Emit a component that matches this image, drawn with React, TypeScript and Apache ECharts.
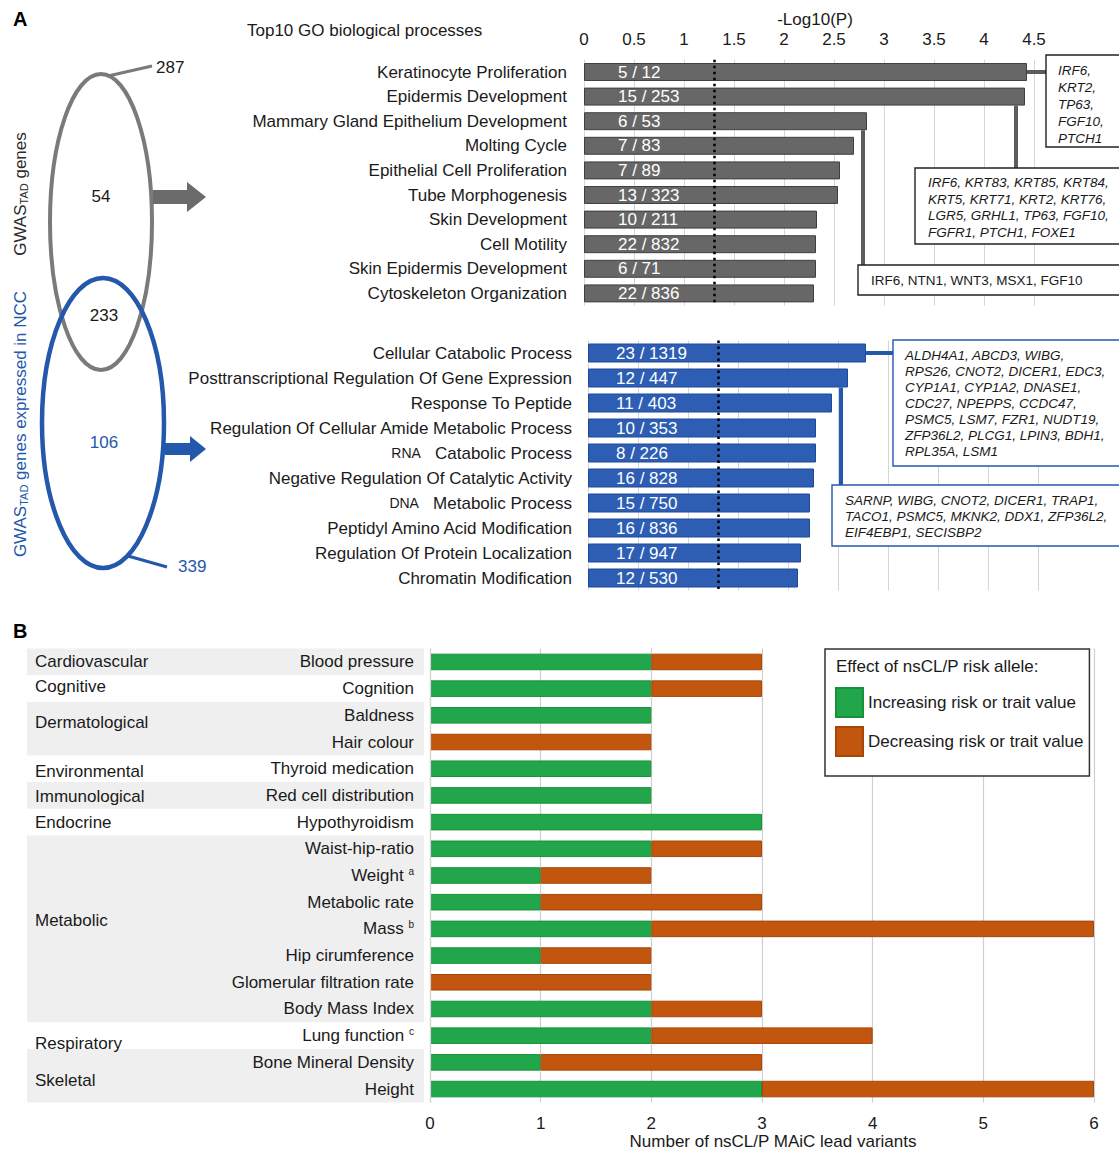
import React, { useEffect, useRef } from 'react';
import * as echarts from 'echarts';

const FONT = '"Liberation Sans", Arial, Helvetica, sans-serif';
const TXT = '#1a1a1a';
const GRAY = '#676767';
const BLUE = '#2d5eb3';
const VBLUE = '#2458ac';
const GREEN = '#22a64b';
const ORANGE = '#c2560e';

// ---------- Panel A data ----------
const grayTerms = [
  'Keratinocyte Proliferation',
  'Epidermis Development',
  'Mammary Gland Epithelium Development',
  'Molting Cycle',
  'Epithelial Cell Proliferation',
  'Tube Morphogenesis',
  'Skin Development',
  'Cell Motility',
  'Skin Epidermis Development',
  'Cytoskeleton Organization',
];
const grayLogP = [4.43, 4.41, 2.83, 2.7, 2.56, 2.54, 2.33, 2.32, 2.32, 2.3];
const grayCounts = ['5 / 12', '15 / 253', '6 / 53', '7 / 83', '7 / 89', '13 / 323', '10 / 211', '22 / 832', '6 / 71', '22 / 836'];

const blueTerms = [
  'Cellular Catabolic Process',
  'Posttranscriptional Regulation Of Gene Expression',
  'Response To Peptide',
  'Regulation Of Cellular Amide Metabolic Process',
  'RNA Catabolic Process',
  'Negative Regulation Of Catalytic Activity',
  'DNA Metabolic Process',
  'Peptidyl Amino Acid Modification',
  'Regulation Of Protein Localization',
  'Chromatin Modification',
];
const blueLogP = [2.78, 2.6, 2.44, 2.28, 2.28, 2.26, 2.22, 2.22, 2.13, 2.1];
const blueCounts = ['23 / 1319', '12 / 447', '11 / 403', '10 / 353', '8 / 226', '16 / 828', '15 / 750', '16 / 836', '17 / 947', '12 / 530'];

const pThreshold = 1.301; // -log10(0.05)

const grayGeneLists = [
  ['IRF6,', 'KRT2,', 'TP63,', 'FGF10,', 'PTCH1'],
  ['IRF6, KRT83, KRT85, KRT84,', 'KRT5, KRT71, KRT2, KRT76,', 'LGR5, GRHL1, TP63, FGF10,', 'FGFR1, PTCH1, FOXE1'],
  ['IRF6, NTN1, WNT3, MSX1, FGF10'],
];
const blueGeneLists = [
  ['ALDH4A1, ABCD3, WIBG,', 'RPS26, CNOT2, DICER1, EDC3,', 'CYP1A1, CYP1A2, DNASE1,', 'CDC27, NPEPPS, CCDC47,', 'PSMC5, LSM7, FZR1, NUDT19,', 'ZFP36L2, PLCG1, LPIN3, BDH1,', 'RPL35A, LSM1'],
  ['SARNP, WIBG, CNOT2, DICER1, TRAP1,', 'TACO1, PSMC5, MKNK2, DDX1, ZFP36L2,', 'EIF4EBP1, SECISBP2'],
];

const vennTotals = ['287', '339'];
const vennRegions = ['54', '233', '106'];

// ---------- Panel B data ----------
const traits = [
  'Blood pressure', 'Cognition', 'Baldness', 'Hair colour', 'Thyroid medication', 'Red cell distribution',
  'Hypothyroidism', 'Waist-hip-ratio', 'Weight', 'Metabolic rate', 'Mass', 'Hip cirumference',
  'Glomerular filtration rate', 'Body Mass Index', 'Lung function', 'Bone Mineral Density', 'Height',
];
const traitNotes: Record<string, string> = { Weight: 'a', Mass: 'b', 'Lung function': 'c' };
const increasing = [2, 2, 2, 0, 2, 2, 3, 2, 1, 1, 2, 1, 0, 2, 2, 1, 3];
const decreasing = [1, 1, 0, 2, 0, 0, 0, 1, 1, 2, 4, 1, 2, 1, 2, 2, 3];
const traitGroups = [
  { name: 'Cardiovascular', first: 0, count: 1 },
  { name: 'Cognitive', first: 1, count: 1 },
  { name: 'Dermatological', first: 2, count: 2 },
  { name: 'Environmental', first: 4, count: 1 },
  { name: 'Immunological', first: 5, count: 1 },
  { name: 'Endocrine', first: 6, count: 1 },
  { name: 'Metabolic', first: 7, count: 7 },
  { name: 'Respiratory', first: 14, count: 1 },
  { name: 'Skeletal', first: 15, count: 2 },
];
const legendNames = ['Increasing risk or trait value', 'Decreasing risk or trait value'];

// ---------- layout ----------
const GA = { left: 584, top: 59.7, width: 450, height: 246 };
const GB = { left: 588, top: 340.5, width: 450, height: 250 };
const GC = { left: 430, top: 648.6, width: 664, height: 453.8 };
const GAP_A = 0.27;
const GAP_B = 0.24;
const groupLabelDy = [0, -2, -6, 3, 1, 0, -8, 8, 5];

const grayBoxes = [
  { x: 1046, y: 55, w: 80, h: 92, tx: 1058, ty: 61.5, lh: 17, italic: true },
  { x: 915, y: 168, w: 210, h: 76, tx: 928, ty: 174.5, lh: 16.5, italic: true },
  { x: 858, y: 265, w: 270, h: 30, tx: 871, ty: 272, lh: 16, italic: false },
];
const blueBoxes = [
  { x: 893, y: 340, w: 232, h: 126, tx: 905, ty: 347, lh: 16, italic: true },
  { x: 832, y: 485, w: 295, h: 61, tx: 845, ty: 492, lh: 16, italic: true },
];

function buildOption(): any {
  const markLine = {
    silent: true,
    symbol: ['none', 'none'],
    label: { show: false },
    lineStyle: { color: '#000', width: 2.5, type: [2.5, 3.5] },
    data: [{ xAxis: pThreshold }],
  };
  const barLabel = (counts: string[], dist: number) => ({
    show: true,
    position: 'insideLeft',
    distance: dist,
    color: '#fff',
    fontSize: 17,
    fontFamily: FONT,
    formatter: (p: any) => counts[p.dataIndex],
  });
  const catAxisLabel = {
    fontSize: 17,
    color: TXT,
    fontFamily: FONT,
    interval: 0,
  };
  return {
    animation: false,
    backgroundColor: '#fff',
    textStyle: { fontFamily: FONT },
    grid: [
      { left: GA.left, top: GA.top, width: GA.width, height: GA.height, containLabel: false },
      { left: GB.left, top: GB.top, width: GB.width, height: GB.height, containLabel: false },
      { left: GC.left, top: GC.top, width: GC.width, height: GC.height, containLabel: false },
    ],
    xAxis: [
      {
        gridIndex: 0,
        type: 'value',
        position: 'top',
        min: 0,
        max: 4.5,
        interval: 0.5,
        name: '-Log10(P)',
        nameLocation: 'middle',
        nameGap: 32,
        nameTextStyle: { fontSize: 17, color: TXT, fontFamily: FONT, padding: [0, 0, 0, 12] },
        axisLine: { show: false },
        axisTick: { show: false },
        axisLabel: { fontSize: 17, color: TXT, fontFamily: FONT, margin: 12 },
        splitLine: { show: true, lineStyle: { color: '#d6d6d6', width: 1 } },
      },
      {
        gridIndex: 1,
        type: 'value',
        position: 'top',
        min: 0,
        max: 4.5,
        interval: 0.5,
        axisLine: { show: false },
        axisTick: { show: false },
        axisLabel: { show: false },
        splitLine: { show: true, lineStyle: { color: '#d6d6d6', width: 1 } },
      },
      {
        gridIndex: 2,
        type: 'value',
        position: 'bottom',
        min: 0,
        max: 6,
        interval: 1,
        name: 'Number of nsCL/P MAiC lead variants',
        nameLocation: 'middle',
        nameGap: 31,
        nameTextStyle: { fontSize: 17, color: TXT, fontFamily: FONT, padding: [0, 0, 0, 22] },
        axisLine: { show: false },
        axisTick: { show: false },
        axisLabel: { fontSize: 17, color: TXT, fontFamily: FONT, margin: 13 },
        splitLine: { show: true, lineStyle: { color: '#cfcfcf', width: 1.2 } },
      },
    ],
    yAxis: [
      {
        gridIndex: 0,
        type: 'category',
        inverse: true,
        data: grayTerms,
        axisLine: { show: false },
        axisTick: { show: false },
        axisLabel: { ...catAxisLabel, margin: 17 },
      },
      {
        gridIndex: 1,
        type: 'category',
        inverse: true,
        data: blueTerms,
        axisLine: { show: false },
        axisTick: { show: false },
        axisLabel: {
          ...catAxisLabel,
          margin: 16,
          formatter: (v: string) => {
            const m = v.match(/^([A-Z]{2,}) (.*)$/);
            return m ? `{ab|${m[1]}}   ${m[2]}` : v;
          },
          rich: { ab: { fontSize: 14, color: TXT, fontFamily: FONT } },
        },
      },
      {
        gridIndex: 2,
        type: 'category',
        inverse: true,
        z: 10,
        data: traits,
        axisLine: { show: true, lineStyle: { color: '#d4d4d4', width: 1.2 } },
        axisTick: { show: false },
        axisLabel: {
          ...catAxisLabel,
          margin: 16,
          formatter: (v: string) => (traitNotes[v] ? `${v} {sup|${traitNotes[v]}}` : v),
          rich: { sup: { fontSize: 10, color: TXT, fontFamily: FONT, padding: [0, 0, 9, 0] } },
        },
      },
    ],
    legend: {
      data: legendNames,
      orient: 'vertical',
      left: 825,
      top: 649,
      itemWidth: 27,
      itemHeight: 29,
      itemGap: 8,
      padding: [38, 6, 19, 10],
      borderColor: '#333',
      borderWidth: 1.5,
      backgroundColor: '#fff',
      icon: 'rect',
      selectedMode: false,
      textStyle: { fontSize: 17, color: TXT, fontFamily: FONT },
    },
    series: [
      {
        type: 'bar',
        xAxisIndex: 0,
        yAxisIndex: 0,
        data: grayLogP,
        barCategoryGap: `${GAP_A * 100}%`,
        itemStyle: { color: GRAY, borderColor: '#3f3f3f', borderWidth: 1 },
        label: barLabel(grayCounts, 34),
        markLine,
      },
      {
        type: 'bar',
        xAxisIndex: 1,
        yAxisIndex: 1,
        data: blueLogP,
        barCategoryGap: `${GAP_B * 100}%`,
        itemStyle: { color: BLUE, borderColor: '#1e4a9a', borderWidth: 1 },
        label: barLabel(blueCounts, 28),
        markLine,
      },
      {
        type: 'bar',
        name: legendNames[0],
        stack: 'effect',
        xAxisIndex: 2,
        yAxisIndex: 2,
        barCategoryGap: '38%',
        data: increasing.map((v) => (v === 0 ? '-' : v)),
        itemStyle: { color: GREEN, borderColor: '#179239', borderWidth: 1 },
      },
      {
        type: 'bar',
        name: legendNames[1],
        stack: 'effect',
        xAxisIndex: 2,
        yAxisIndex: 2,
        barCategoryGap: '38%',
        data: decreasing.map((v) => (v === 0 ? '-' : v)),
        itemStyle: { color: ORANGE, borderColor: '#a84508', borderWidth: 1 },
      },
    ],
  };
}

const txt = (text: string, x: number, y: number, extra: any = {}, z = 60): any => ({
  type: 'text',
  x,
  y,
  z,
  style: {
    legacy: false,
    text,
    fill: TXT,
    fontSize: 17,
    fontFamily: FONT,
    align: 'left',
    verticalAlign: 'middle',
    ...extra,
  },
});

function staticGraphics(): any[] {
  const els: any[] = [];
  // panel letters and titles
  els.push(txt('A', 13, 19, { fontSize: 20, fontWeight: 'bold', fill: '#000' }));
  els.push(txt('B', 13, 631, { fontSize: 20, fontWeight: 'bold', fill: '#000' }));
  els.push(txt('Top10 GO biological processes', 247, 30));

  // Venn diagram
  els.push({ type: 'ellipse', z: 20, shape: { cx: 101, cy: 222, rx: 51, ry: 148 }, style: { fill: 'transparent', stroke: '#7a7a7a', lineWidth: 4 } });
  els.push({ type: 'ellipse', z: 21, shape: { cx: 103, cy: 423, rx: 61, ry: 145 }, style: { fill: 'transparent', stroke: VBLUE, lineWidth: 4.5 } });
  els.push({ type: 'line', z: 20, shape: { x1: 108, y1: 76, x2: 152, y2: 66 }, style: { stroke: '#7a7a7a', lineWidth: 3 } });
  els.push({ type: 'line', z: 20, shape: { x1: 128, y1: 556, x2: 167, y2: 567 }, style: { stroke: VBLUE, lineWidth: 3 } });
  els.push(txt(vennTotals[0], 156, 67));
  els.push(txt(vennTotals[1], 178, 566, { fill: VBLUE }));
  els.push(txt(vennRegions[0], 101, 196, { align: 'center' }));
  els.push(txt(vennRegions[1], 104, 315, { align: 'center' }));
  els.push(txt(vennRegions[2], 104, 442, { align: 'center', fill: VBLUE }));
  els.push({
    type: 'polygon',
    z: 20,
    shape: { points: [[153, 190], [187, 190], [187, 182], [206, 197], [187, 212], [187, 204], [153, 204]] },
    style: { fill: '#6b6b6b' },
  });
  els.push({
    type: 'polygon',
    z: 20,
    shape: { points: [[165, 443], [190, 443], [190, 436], [206, 449], [190, 462], [190, 455], [165, 455]] },
    style: { fill: VBLUE },
  });
  const rot = (text: string, x: number, y: number, color: string) => ({
    type: 'text',
    x,
    y,
    z: 60,
    rotation: Math.PI / 2,
    style: {
      legacy: false,
      text,
      fill: color,
      fontSize: 17,
      fontFamily: FONT,
      align: 'center',
      verticalAlign: 'middle',
      rich: { sub: { fontSize: 11, fill: color, fontFamily: FONT, padding: [7, 0, 0, 0] } },
    },
  });
  els.push(rot('GWAS{sub|TAD} genes', 20, 194, '#2b2b2b'));
  els.push(rot('GWAS{sub|TAD} genes expressed in NCC', 20, 424, VBLUE));

  // gene boxes
  const addBoxes = (boxes: typeof grayBoxes, lists: string[][], stroke: string) => {
    boxes.forEach((b, i) => {
      els.push({ type: 'rect', z: 50, shape: { x: b.x, y: b.y, width: b.w, height: b.h }, style: { fill: '#fff', stroke, lineWidth: 1.4 } });
      els.push(
        txt(lists[i].join('\n'), b.tx, b.ty, {
          fontSize: 13.5,
          fontStyle: b.italic ? 'italic' : 'normal',
          lineHeight: b.lh,
          verticalAlign: 'top',
        }, 51),
      );
    });
  };
  addBoxes(grayBoxes, grayGeneLists, '#222');
  addBoxes(blueBoxes, blueGeneLists, VBLUE);

  // panel B category bands and group labels
  const band = GC.height / traits.length;
  traitGroups.forEach((g, i) => {
    const y0 = GC.top + g.first * band;
    const h = g.count * band;
    if (i % 2 === 0) {
      els.push({ type: 'rect', z: 0, shape: { x: 27, y: y0, width: 397, height: h }, style: { fill: '#efefef' } });
    }
    els.push(txt(g.name, 35, y0 + h / 2 + groupLabelDy[i]));
  });
  els.push(txt('Effect of nsCL/P risk allele:', 836, 666, {}, 100));
  return els;
}

export default function App() {
  const ref = useRef<HTMLDivElement>(null);
  useEffect(() => {
    if (!ref.current) return;
    const chart = echarts.init(ref.current, null, { renderer: 'svg' });
    chart.setOption(buildOption());

    const els = staticGraphics();
    const bandA = GA.height / grayTerms.length;
    const bandB = GB.height / blueTerms.length;
    const halfA = (bandA * (1 - GAP_A)) / 2;
    const halfB = (bandB * (1 - GAP_B)) / 2;
    const pa = (i: number) => chart.convertToPixel({ gridIndex: 0 }, [grayLogP[i], grayTerms[i]]) as number[];
    const pb = (i: number) => chart.convertToPixel({ gridIndex: 1 }, [blueLogP[i], blueTerms[i]]) as number[];
    const gStyle = { stroke: '#5c5c5c', lineWidth: 4 };
    const bStyle = { stroke: VBLUE, lineWidth: 4 };
    const g0 = pa(0);
    const g1 = pa(1);
    const g2 = pa(2);
    const b0 = pb(0);
    const b1 = pb(1);
    els.push({ type: 'line', z: 49, shape: { x1: g0[0], y1: g0[1], x2: grayBoxes[0].x, y2: g0[1] }, style: gStyle });
    els.push({ type: 'line', z: 49, shape: { x1: g1[0] - 9, y1: g1[1] + halfA, x2: g1[0] - 9, y2: grayBoxes[1].y }, style: gStyle });
    els.push({ type: 'line', z: 49, shape: { x1: g2[0] - 4, y1: g2[1] + halfA, x2: g2[0] - 4, y2: grayBoxes[2].y }, style: gStyle });
    els.push({ type: 'line', z: 49, shape: { x1: b0[0], y1: b0[1], x2: blueBoxes[0].x, y2: b0[1] }, style: bStyle });
    els.push({ type: 'line', z: 49, shape: { x1: b1[0] - 7, y1: b1[1] + halfB, x2: b1[0] - 7, y2: blueBoxes[1].y }, style: bStyle });

    chart.setOption({ graphic: { elements: els } });
    return () => chart.dispose();
  }, []);
  return (
    <div
      ref={ref}
      style={{ position: 'absolute', left: 0, top: 0, width: 1119, height: 1153, background: '#fff' }}
    />
  );
}
